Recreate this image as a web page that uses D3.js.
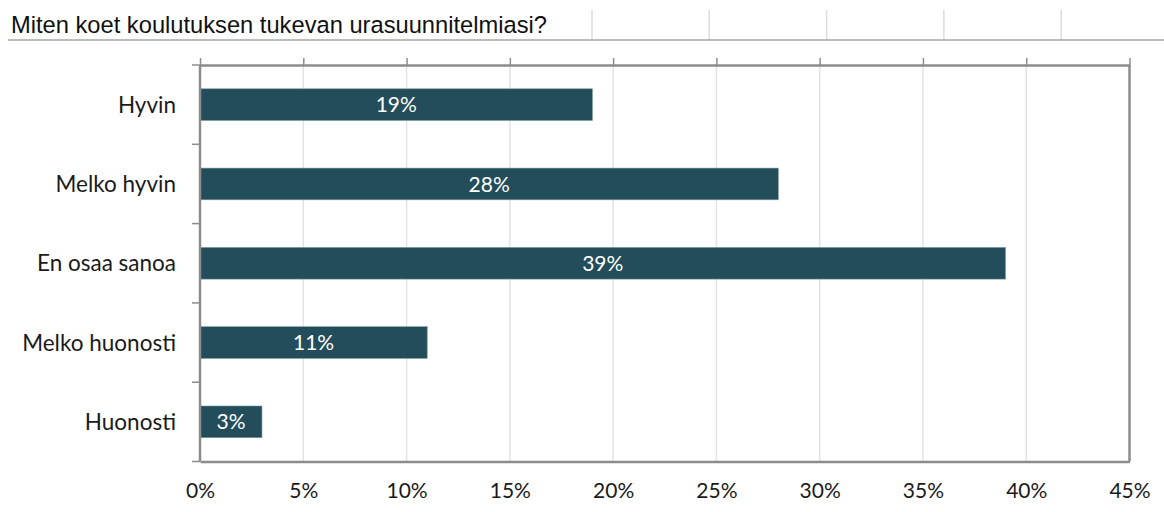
<!DOCTYPE html>
<meta charset="utf-8">
<style>
body { margin: 0; background: #fff; }
.title { font-family: "Liberation Sans", Arial, sans-serif; font-size: 23.7px; fill: #111; }
.lbl { font-family: Lato, "Open Sans", sans-serif; font-size: 21px; fill: #1a1a1a; }
.cat { font-size: 22.5px; }
.val { font-family: Lato, "Open Sans", sans-serif; font-size: 21px; fill: #fff; }
</style>
<body>
<script src="https://cdn.jsdelivr.net/npm/d3@7"></script>
<script>

// data
var categories = ["Hyvin", "Melko hyvin", "En osaa sanoa", "Melko huonosti", "Huonosti"];
var values = [0.19, 0.28, 0.39, 0.11, 0.03];
var xTicks = [0, 0.05, 0.10, 0.15, 0.20, 0.25, 0.30, 0.35, 0.40, 0.45];
var title = "Miten koet koulutuksen tukevan urasuunnitelmiasi?";

var W = 1164, H = 512;
var plot = {left: 200, right: 1129.5, top: 65, bottom: 461.5};

var svg = d3.select("body").append("svg")
    .attr("width", W)
    .attr("height", H);

// header: title with underline and the faint column lines
for (var i = 0; i < 5; i++) {
  var cx = 592 + i * 117.3;
  svg.append("line")
      .attr("x1", cx).attr("x2", cx)
      .attr("y1", 10).attr("y2", 40)
      .attr("stroke", "#dcdcdc").attr("stroke-width", 1.5);
}
svg.append("line")
    .attr("x1", 8).attr("x2", W)
    .attr("y1", 40).attr("y2", 40)
    .attr("stroke", "#a6a6a6").attr("stroke-width", 1.5);
svg.append("text")
    .attr("class", "title")
    .attr("x", 11).attr("y", 33)
    .text(title);

var x = d3.scaleLinear().domain([0, 0.45]).range([plot.left, plot.right]);
var y = d3.scaleBand()
    .domain(categories)
    .range([plot.top, plot.bottom])
    .paddingInner(0.6)
    .paddingOuter(0.3);

// vertical gridlines
svg.append("g").selectAll("line")
    .data(xTicks.slice(1, -1))
    .enter().append("line")
      .attr("x1", function(d) { return x(d); })
      .attr("x2", function(d) { return x(d); })
      .attr("y1", plot.top).attr("y2", plot.bottom)
      .attr("stroke", "#e3e3e3").attr("stroke-width", 1.5);

// bars
svg.append("g").selectAll("rect")
    .data(categories)
    .enter().append("rect")
      .attr("x", x(0))
      .attr("y", function(d) { return y(d); })
      .attr("width", function(d, i) { return x(values[i]) - x(0); })
      .attr("height", y.bandwidth())
      .attr("fill", "#234d5a")
      .attr("stroke", "#7f9ca4")
      .attr("stroke-width", 0.6);

// value labels
svg.append("g").selectAll("text")
    .data(categories)
    .enter().append("text")
      .attr("class", "val")
      .attr("x", function(d, i) { return (x(0) + x(values[i])) / 2; })
      .attr("y", function(d) { return y(d) + y.bandwidth() / 2; })
      .attr("dy", "0.36em")
      .attr("text-anchor", "middle")
      .text(function(d, i) { return Math.round(values[i] * 100) + "%"; });

var axisColor = "#8c8c8c";

// top axis with upward ticks
var topAxis = svg.append("g")
    .attr("transform", "translate(0," + plot.top + ")")
    .call(d3.axisTop(x).tickValues(xTicks).tickSize(7).tickSizeOuter(0).tickFormat(""));
topAxis.select(".domain").attr("stroke", axisColor).attr("stroke-width", 2.5);
topAxis.selectAll(".tick line").attr("stroke", axisColor).attr("stroke-width", 1.5);

// right border
svg.append("line")
    .attr("x1", plot.right).attr("x2", plot.right)
    .attr("y1", plot.top).attr("y2", plot.bottom)
    .attr("stroke", axisColor).attr("stroke-width", 2.5);

// bottom axis, labels only
var bottomAxis = svg.append("g")
    .attr("transform", "translate(0," + plot.bottom + ")")
    .call(d3.axisBottom(x).tickValues(xTicks).tickSize(0).tickPadding(22)
      .tickFormat(function(d) { return Math.round(d * 100) + "%"; }));
bottomAxis.attr("font-family", null).attr("font-size", null);
bottomAxis.select(".domain").attr("stroke", axisColor).attr("stroke-width", 2.5);
bottomAxis.selectAll("text").attr("class", "lbl").attr("fill", null);

// left axis: ticks at category boundaries
var leftAxis = svg.append("g")
    .attr("transform", "translate(" + plot.left + ",0)");
var bounds = categories.map(function(d) { return y(d) - (y.step() - y.bandwidth()) / 2; });
bounds.push(plot.bottom);
leftAxis.append("line")
    .attr("y1", plot.top).attr("y2", plot.bottom)
    .attr("stroke", axisColor).attr("stroke-width", 2.5);
leftAxis.selectAll(".bt")
    .data(bounds)
    .enter().append("line")
      .attr("x1", -8).attr("x2", 0)
      .attr("y1", function(d) { return d; })
      .attr("y2", function(d) { return d; })
      .attr("stroke", axisColor).attr("stroke-width", 1.5);
leftAxis.selectAll(".cat")
    .data(categories)
    .enter().append("text")
      .attr("class", "lbl cat")
      .attr("x", -24)
      .attr("y", function(d) { return y(d) + y.bandwidth() / 2; })
      .attr("dy", "0.36em")
      .attr("text-anchor", "end")
      .text(function(d) { return d; });

</script>
</body>
